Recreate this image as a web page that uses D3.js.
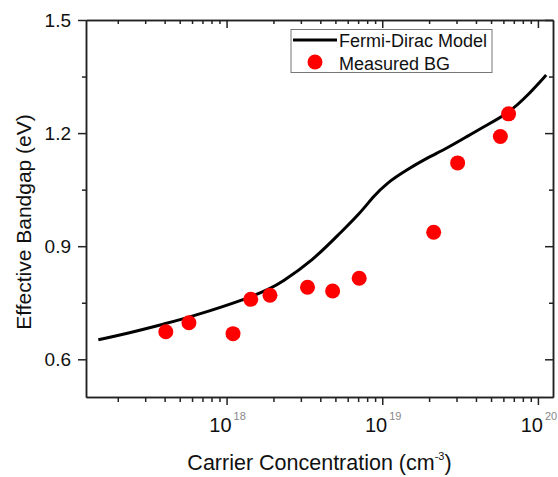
<!DOCTYPE html>
<html>
<head>
<meta charset="utf-8">
<script src="https://cdn.jsdelivr.net/npm/d3@7"></script>
<style>
  body { margin: 0; background: #fff; }
  svg { display: block; font-family: "Liberation Sans", Arial, sans-serif; }
  .axis path, .axis line { stroke: #222; stroke-width: 1.5; }
</style>
</head>
<body>
<svg id="chart" width="558" height="477"></svg>
<script>
// Measured BG points (carrier conc. in cm^-3, bandgap in eV)
var measuredConc = [4.07e17, 5.73e17, 1.10e18, 1.43e18, 1.90e18, 3.31e18, 4.80e18, 7.11e18, 2.14e19, 3.05e19, 5.74e19, 6.48e19];
var measuredBG   = [0.673, 0.697, 0.668, 0.759, 0.770, 0.791, 0.781, 0.815, 0.937, 1.121, 1.191, 1.251];

// Fermi-Dirac model curve
var modelConc = [1.50e17, 2.28e17, 4.07e17, 5.75e17, 1.43e18, 1.90e18, 2.20e18, 3.60e18, 5.33e18, 7.18e18, 8.73e18, 1.064e19, 1.43e19, 1.92e19, 2.58e19, 3.47e19, 4.67e19, 6.41e19, 8.43e19, 1.13e20];
var modelBG   = [0.652, 0.668, 0.695, 0.711, 0.764, 0.788, 0.801, 0.863, 0.934, 0.987, 1.031, 1.067, 1.102, 1.133, 1.159, 1.190, 1.221, 1.252, 1.296, 1.354];

var xMajor = [1e18, 1e19, 1e20];
var yMajor = [0.6, 0.9, 1.2, 1.5];
var yMinor = [0.75, 1.05, 1.35];

var svg = d3.select("#chart");
var pLeft = 86, pRight = 553, pTop = 20, pBottom = 397;

var x = d3.scaleLog().domain([1.25e17, 1.25e20]).range([pLeft, pRight]);
var y = d3.scaleLinear().domain([0.5, 1.5]).range([pBottom, pTop]);

// minor x ticks: 2..9 in every decade inside domain
var xMinor = [];
[17, 18, 19].forEach(function(e) {
  for (var m = 2; m <= 9; m++) {
    var v = m * Math.pow(10, e);
    if (v > 1.25e17 && v < 1.25e20) xMinor.push(v);
  }
});

// bottom axis
svg.append("g").attr("class", "axis").attr("transform", "translate(0," + pBottom + ")")
  .call(d3.axisBottom(x).tickValues(xMinor).tickSize(5).tickSizeOuter(0).tickFormat(""));
svg.append("g").attr("class", "axis").attr("transform", "translate(0," + pBottom + ")")
  .call(d3.axisBottom(x).tickValues(xMajor).tickSize(8).tickSizeOuter(0).tickFormat(""));

// top axis (ticks inward)
svg.append("g").attr("class", "axis").attr("transform", "translate(0," + pTop + ")")
  .call(d3.axisTop(x).tickValues(xMinor).tickSize(-4).tickSizeOuter(0).tickFormat(""));
svg.append("g").attr("class", "axis").attr("transform", "translate(0," + pTop + ")")
  .call(d3.axisTop(x).tickValues(xMajor).tickSize(-8).tickSizeOuter(0).tickFormat(""));

// left axis
svg.append("g").attr("class", "axis").attr("transform", "translate(" + pLeft + ",0)")
  .call(d3.axisLeft(y).tickValues(yMinor).tickSize(4).tickSizeOuter(0).tickFormat(""));
svg.append("g").attr("class", "axis").attr("transform", "translate(" + pLeft + ",0)")
  .call(d3.axisLeft(y).tickValues(yMajor).tickSize(8).tickPadding(7).tickSizeOuter(0).tickFormat(d3.format(".1f")))
  .selectAll("text").attr("font-size", 19).attr("fill", "#111");

// right axis (ticks inward)
svg.append("g").attr("class", "axis").attr("transform", "translate(" + pRight + ",0)")
  .call(d3.axisRight(y).tickValues(yMinor).tickSize(-4).tickSizeOuter(0).tickFormat(""));
svg.append("g").attr("class", "axis").attr("transform", "translate(" + pRight + ",0)")
  .call(d3.axisRight(y).tickValues(yMajor).tickSize(-8).tickSizeOuter(0).tickFormat(""));

svg.selectAll(".axis").attr("font-family", null).attr("font-size", null);

// x tick labels 10^n
svg.selectAll(".xlab").data(xMajor).enter().append("text")
  .attr("class", "xlab")
  .attr("x", function(d) { return x(d) + 1; })
  .attr("y", 432)
  .attr("text-anchor", "middle")
  .each(function(d) {
    var t = d3.select(this);
    t.append("tspan").attr("font-size", 20).attr("fill", "#111").text("10");
    t.append("tspan").attr("font-size", 11).attr("fill", "#888").attr("dx", 2).attr("dy", -12)
      .text(Math.round(Math.log10(d)));
  });

// model curve
var line = d3.line()
  .x(function(d, i) { return x(modelConc[i]); })
  .y(function(d, i) { return y(modelBG[i]); })
  .curve(d3.curveBasis);

svg.append("path").datum(modelBG)
  .attr("d", line)
  .attr("fill", "none")
  .attr("stroke", "#000")
  .attr("stroke-width", 3);

// measured points
svg.selectAll(".pt").data(measuredBG).enter().append("circle")
  .attr("class", "pt")
  .attr("cx", function(d, i) { return x(measuredConc[i]); })
  .attr("cy", function(d) { return y(d); })
  .attr("r", 7.5)
  .attr("fill", "#ff0000");

// axis titles
var xt = svg.append("text")
  .attr("x", (pLeft + pRight) / 2)
  .attr("y", 470)
  .attr("text-anchor", "middle")
  .attr("font-size", 21.5)
  .attr("fill", "#111");
xt.append("tspan").text("Carrier Concentration (cm");
xt.append("tspan").attr("font-size", 11).attr("dy", -10).text("-3");
xt.append("tspan").attr("dy", 10).text(")");

svg.append("text")
  .attr("transform", "translate(31,222) rotate(-90)")
  .attr("text-anchor", "middle")
  .attr("font-size", 21)
  .attr("fill", "#111")
  .text("Effective Bandgap (eV)");

// legend
var lg = svg.append("g");
lg.append("rect")
  .attr("x", 291).attr("y", 29.5).attr("width", 201).attr("height", 43)
  .attr("fill", "#fff").attr("stroke", "#777").attr("stroke-width", 1);
lg.append("line")
  .attr("x1", 293).attr("x2", 337).attr("y1", 40).attr("y2", 40)
  .attr("stroke", "#000").attr("stroke-width", 3);
lg.append("text").attr("x", 339).attr("y", 46.5).attr("font-size", 18).attr("fill", "#111")
  .text("Fermi-Dirac Model");
lg.append("circle").attr("cx", 315).attr("cy", 62).attr("r", 7.5).attr("fill", "#ff0000");
lg.append("text").attr("x", 339).attr("y", 69.5).attr("font-size", 18).attr("fill", "#111")
  .text("Measured BG");
</script>
</body>
</html>
